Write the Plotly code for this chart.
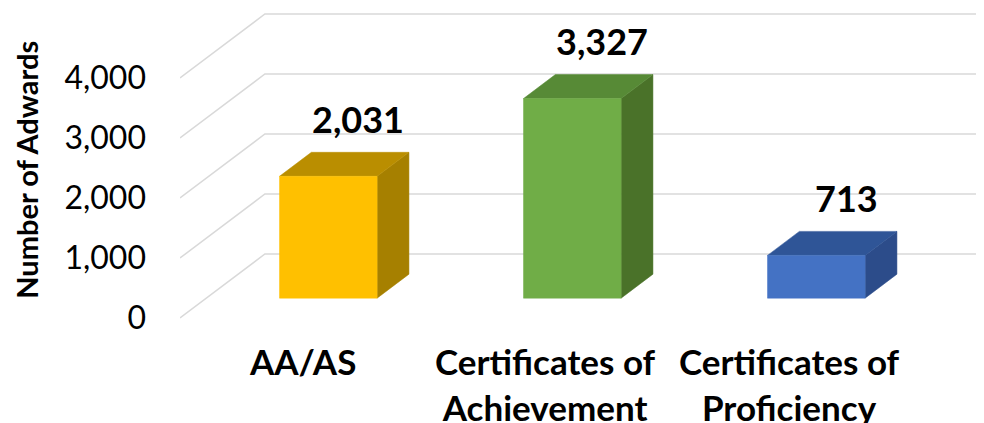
import plotly.graph_objects as go

# data
categories = ["AA/AS", "Certificates of<br>Achievement", "Certificates of<br>Proficiency"]
awards = [2031, 3327, 713]
y_ticks = [0, 1000, 2000, 3000, 4000]

# colours per bar: front, top, side
front_cols = ["#FFC000", "#70AD47", "#4472C4"]
top_cols = ["#BA8E00", "#578A36", "#2F5597"]
side_cols = ["#A68000", "#4A7229", "#2C4C8A"]

# fake 3D projection (axis units)
DX, DY = 0.348, 1067      # full floor depth offset
F0, F1 = 0.31, 0.685      # bar front / back depth fraction
W = 0.40                  # bar width
X_MAX = 2.9

FONT = "Lato"

traces = []

# gridlines: side wall diagonal + back wall
for v in y_ticks:
    traces.append(go.Scatter(
        x=[-0.5, -0.5 + DX, X_MAX], y=[v, v + DY, v + DY],
        mode="lines", line=dict(color="#D9D9D9", width=1.5),
        hoverinfo="skip", showlegend=False))

bdx = (F1 - F0) * DX
bdy = (F1 - F0) * DY


def face(xs, ys, col):
    return go.Scatter(x=xs + [xs[0]], y=ys + [ys[0]], mode="lines",
                      fill="toself", fillcolor=col,
                      line=dict(color=col, width=0.5),
                      hoverinfo="skip", showlegend=False)


for i, v in enumerate(awards):
    x0 = i + F0 * DX - W / 2
    x1 = x0 + W
    y0 = F0 * DY
    y1 = y0 + v
    traces.append(face([x1, x1 + bdx, x1 + bdx, x1], [y0, y0 + bdy, y1 + bdy, y1], side_cols[i]))
    traces.append(face([x0, x1, x1 + bdx, x0 + bdx], [y1, y1, y1 + bdy, y1 + bdy], top_cols[i]))
    traces.append(face([x0, x1, x1, x0], [y0, y0, y1, y1], front_cols[i]))

fig = go.Figure(data=traces)

# data labels
for i, v in enumerate(awards):
    fig.add_annotation(x=i + 0.23, y=v + 1290, text=f"<b>{v:,}</b>",
                       showarrow=False, xanchor="center", yanchor="middle",
                       font=dict(family=FONT, size=36, color="#000000"))

# category labels
for i, c in enumerate(categories):
    fig.add_annotation(x=i, y=-330, text=f"<b>{c}</b>", showarrow=False,
                       xanchor="center", yanchor="top",
                       font=dict(family=FONT, size=35, color="#000000"))

# y-axis title
fig.add_annotation(xref="paper", x=-0.19, y=2467, text="<b>Number of Adwards</b>",
                   textangle=-90, showarrow=False, xanchor="center", yanchor="middle",
                   font=dict(family=FONT, size=29, color="#000000"))

fig.update_layout(
    width=984, height=423,
    margin=dict(l=172, r=0, t=0, b=0),
    paper_bgcolor="white", plot_bgcolor="white",
    xaxis=dict(range=[-0.5, 2.828], visible=False, fixedrange=True),
    yaxis=dict(range=[-1883, 5167], showgrid=False, zeroline=False,
               tickvals=y_ticks, tickformat=",", ticklabelstandoff=33,
               tickfont=dict(family=FONT, size=32, color="#000000"),
               showline=False, fixedrange=True),
    showlegend=False,
)

fig.write_html("out.html")
